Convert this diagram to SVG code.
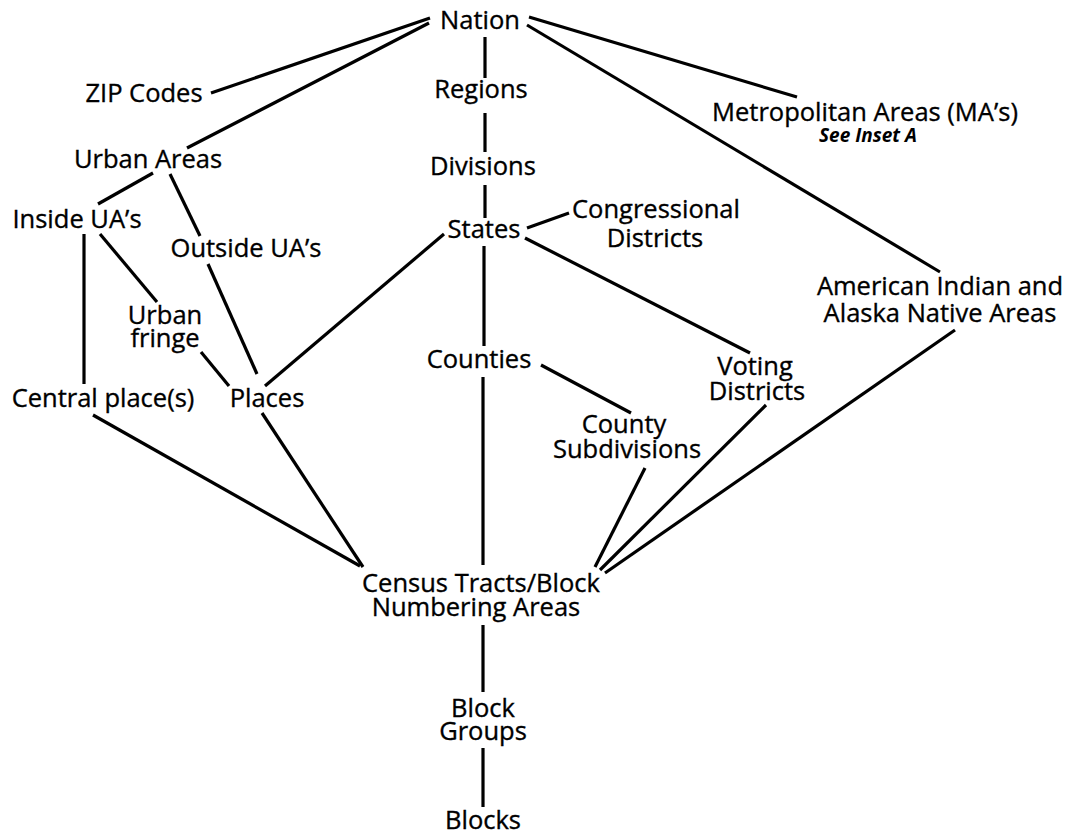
<svg xmlns="http://www.w3.org/2000/svg" width="1066" height="837" viewBox="0 0 1066 837">
<style>
.lbl{font-family:"Open Sans","Liberation Sans",sans-serif;font-size:25.5px;fill:#000;stroke:#000;stroke-width:0.35;text-anchor:middle}
.note{font-family:"Open Sans","Liberation Sans",sans-serif;font-size:19px;font-weight:bold;font-style:italic;fill:#000;text-anchor:middle}
.c line{stroke:#000;stroke-width:3.2;stroke-linecap:butt}
</style>
<rect width="1066" height="837" fill="#fff"/>
<g class="c" id="connectors">
<line x1="430" y1="18" x2="211" y2="93"/>
<line x1="429" y1="23" x2="187" y2="148"/>
<line x1="485" y1="37" x2="485" y2="78"/>
<line x1="485" y1="113" x2="485" y2="152"/>
<line x1="485" y1="185" x2="485" y2="218"/>
<line x1="529" y1="17" x2="797" y2="97"/>
<line x1="527" y1="25" x2="940" y2="272"/>
<line x1="153" y1="173" x2="98" y2="204"/>
<line x1="170" y1="174" x2="200" y2="236"/>
<line x1="84" y1="234" x2="84" y2="384"/>
<line x1="100" y1="234" x2="157" y2="302"/>
<line x1="208" y1="264" x2="257" y2="374"/>
<line x1="444" y1="234" x2="265" y2="386"/>
<line x1="201" y1="352" x2="229" y2="386"/>
<line x1="527" y1="228" x2="569" y2="213"/>
<line x1="525" y1="238" x2="750" y2="353"/>
<line x1="484" y1="246" x2="484" y2="346"/>
<line x1="541" y1="365" x2="631" y2="413"/>
<line x1="483" y1="377" x2="483" y2="565"/>
<line x1="93" y1="415" x2="360" y2="566"/>
<line x1="262" y1="413" x2="363" y2="567"/>
<line x1="645" y1="468" x2="595" y2="567"/>
<line x1="766" y1="405" x2="600" y2="570"/>
<line x1="955" y1="330" x2="605" y2="573"/>
<line x1="483" y1="625" x2="483" y2="692"/>
<line x1="483" y1="748" x2="483" y2="807"/>
</g>
<g id="nation"><text class="lbl" x="480" y="29">Nation</text></g>
<g id="zip"><text class="lbl" x="144" y="102">ZIP Codes</text></g>
<g id="regions"><text class="lbl" x="481" y="98">Regions</text></g>
<g id="metro"><text class="lbl" x="865" y="121">Metropolitan Areas (MA’s)</text><text class="note" x="868" y="142">See Inset A</text></g>
<g id="urban-areas"><text class="lbl" x="148" y="168">Urban Areas</text></g>
<g id="divisions"><text class="lbl" x="483" y="175">Divisions</text></g>
<g id="inside-ua"><text class="lbl" x="77" y="228">Inside UA’s</text></g>
<g id="congressional"><text class="lbl" x="656" y="218">Congressional</text><text class="lbl" x="655" y="247">Districts</text></g>
<g id="states"><text class="lbl" x="484" y="238">States</text></g>
<g id="outside-ua"><text class="lbl" x="246" y="257">Outside UA’s</text></g>
<g id="aian"><text class="lbl" x="940" y="295">American Indian and</text><text class="lbl" x="940" y="322">Alaska Native Areas</text></g>
<g id="urban-fringe"><text class="lbl" x="165" y="324">Urban</text><text class="lbl" x="165" y="347">fringe</text></g>
<g id="counties"><text class="lbl" x="479" y="368">Counties</text></g>
<g id="voting"><text class="lbl" x="755" y="375">Voting</text><text class="lbl" x="757" y="400">Districts</text></g>
<g id="central-place"><text class="lbl" x="103" y="407">Central place(s)</text></g>
<g id="places"><text class="lbl" x="267" y="407">Places</text></g>
<g id="county-sub"><text class="lbl" x="624" y="433">County</text><text class="lbl" x="627" y="458">Subdivisions</text></g>
<g id="census-tracts"><text class="lbl" x="481" y="592">Census Tracts/Block</text><text class="lbl" x="476" y="616">Numbering Areas</text></g>
<g id="block-groups"><text class="lbl" x="483" y="717">Block</text><text class="lbl" x="483" y="740">Groups</text></g>
<g id="blocks"><text class="lbl" x="483" y="829">Blocks</text></g>
</svg>
